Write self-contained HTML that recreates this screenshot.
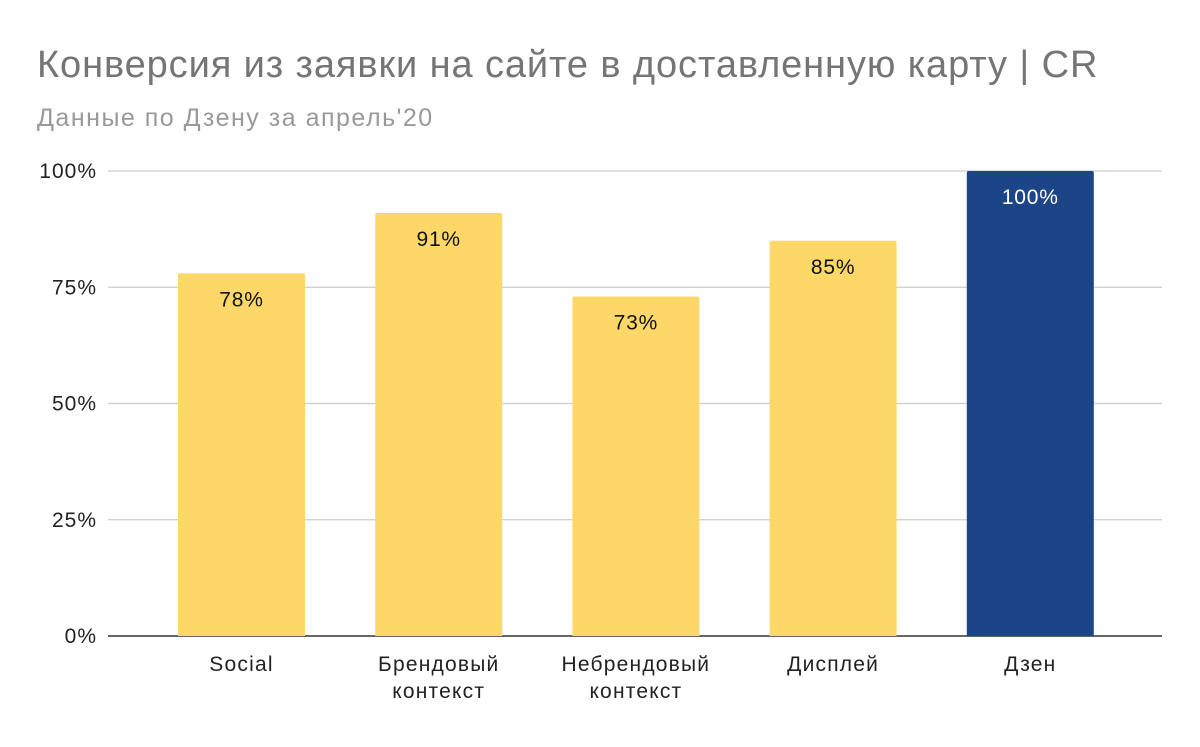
<!DOCTYPE html>
<html><head><meta charset="utf-8"><style>
body{margin:0;background:#fff}
svg text{font-family:"Liberation Sans","DejaVu Sans",sans-serif}
</style></head><body>
<svg id="chart" width="1200" height="742" xmlns="http://www.w3.org/2000/svg">
<rect width="1200" height="742" fill="#fff"/>
<text x="37" y="77" font-size="38" letter-spacing="0.9" fill="#757575">Конверсия из заявки на сайте в доставленную карту | CR</text>
<text x="37" y="126" font-size="25" letter-spacing="1.5" fill="#999">Данные по Дзену за апрель'20</text>
<g id="grid"></g><g id="bars"></g><g id="labels"></g>
</svg>
<script>
const categories=[["Social"],["Брендовый","контекст"],["Небрендовый","контекст"],["Дисплей"],["Дзен"]];
const values=[78,91,73,85,100];
const valueLabels=["78%","91%","73%","85%","100%"];
const colors=["#fdd868","#fdd868","#fdd868","#fdd868","#1c4587"];
const ticks=[0,25,50,75,100];
const tickLabels=["0%","25%","50%","75%","100%"];
const NS="http://www.w3.org/2000/svg";
const y0=636,y1=171,xL=108,xR=1162;
const yS=v=>y0-(v/100)*(y0-y1);
const band=197.2,first=241.5,bw=127;
const xS=i=>first+i*band;
function mk(t,a,p){const e=document.createElementNS(NS,t);for(const k in a)e.setAttribute(k,a[k]);p.appendChild(e);return e;}
const g=document.getElementById('grid'),b=document.getElementById('bars'),l=document.getElementById('labels');
ticks.forEach((t,i)=>{
 const ln=mk('line',{x1:xL,x2:xR,y1:yS(t),y2:yS(t),stroke:t===0?'#333':'#ccc','stroke-width':t===0?1.5:1.2},g);
 
 
 const tx=mk('text',{x:97,y:yS(t)+7,'text-anchor':'end','font-size':21,'letter-spacing':1,fill:'#222'},l);
 tx.textContent=tickLabels[i];
 
 
});
values.forEach((v,i)=>{
 const x=xS(i)-bw/2,y=yS(v),h=y0-y;
 const p=mk('path',{d:`M${x},${y0}V${y+2}Q${x},${y} ${x+2},${y}H${x+bw-2}Q${x+bw},${y} ${x+bw},${y+2}V${y0}Z`,fill:colors[i]},b);
 
 
 const vt=mk('text',{x:xS(i),y:y+33,'text-anchor':'middle','font-size':21,'letter-spacing':0.8,fill:i===4?'#fff':'#111'},l);
 vt.textContent=valueLabels[i];
 
 
 categories[i].forEach((c,j)=>{
  const ct=mk('text',{x:xS(i),y:671+j*27,'text-anchor':'middle','font-size':21,'letter-spacing':1.2,fill:'#222'},l);
  ct.textContent=c;
  
  
 });
});
</script>
</body></html>
